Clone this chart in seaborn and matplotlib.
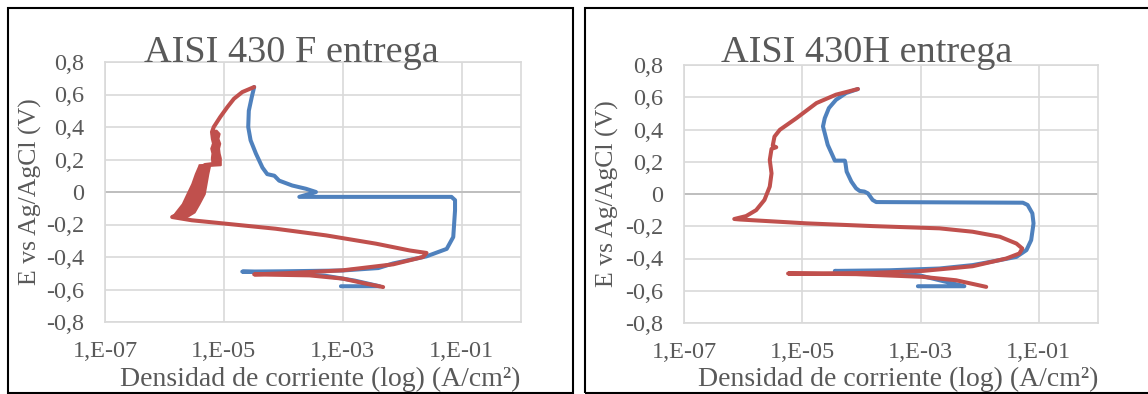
import numpy as np
import pandas as pd
import matplotlib
matplotlib.use('Agg')
import matplotlib.pyplot as plt
import seaborn as sns
from matplotlib.ticker import FixedLocator, FuncFormatter

# ================= datos (log10 de la densidad de corriente, potencial en V) =================
# AISI 430 F - barrido directo (azul)
f_blue_log = [-3.03, -2.38, -2.80, -3.30, -4.00, -4.69, -4.00, -3.00, -2.40, -2.155, -1.59, -1.25, -1.14,
              -1.11, -1.11, -1.17, -2.50, -3.73, -3.45, -3.62, -3.85, -4.07, -4.15, -4.27, -4.35, -4.46,
              -4.55, -4.59, -4.58, -4.53, -4.49]
f_blue_E = [-0.58, -0.58, -0.545, -0.515, -0.498, -0.490, -0.488, -0.483, -0.468, -0.44, -0.396, -0.35, -0.277,
            -0.113, -0.05, -0.03, -0.03, -0.03, 0.0, 0.02, 0.04, 0.07, 0.10, 0.11, 0.15, 0.236,
            0.318, 0.40, 0.50, 0.585, 0.646]
# AISI 430 F - barrido inverso (rojo)
f_red_log = [-4.49, -4.69, -4.83, -4.94, -5.06, -5.17, -5.20, -5.15, -5.17, -5.13, -5.16, -5.13, -5.14, -5.32,
             -5.38, -5.45, -5.50, -5.58, -5.68, -5.87, -5.54, -4.97, -4.13, -3.28, -2.44, -1.87, -1.59,
             -1.65, -2.15, -3.00, -3.85, -4.49, -3.56, -3.00, -2.61, -2.32]
f_red_E = [0.646, 0.615, 0.574, 0.523, 0.462, 0.40, 0.369, 0.33, 0.29, 0.25, 0.21, 0.19, 0.174, 0.166,
           0.10, 0.04, -0.01, -0.07, -0.12, -0.154, -0.174, -0.195, -0.226, -0.267, -0.318, -0.36, -0.375,
           -0.40, -0.445, -0.482, -0.498, -0.507, -0.513, -0.533, -0.564, -0.585]
# zona ruidosa del barrido inverso (envolvente)
f_band_E = [0.38, 0.36, 0.33, 0.30, 0.27, 0.24, 0.21, 0.18, 0.172, 0.168, 0.164, 0.113, 0.051, -0.010,
            -0.072, -0.123, -0.154]
f_band_left = [-5.20, -5.22, -5.21, -5.19, -5.22, -5.20, -5.21, -5.20, -5.20, -5.42, -5.42, -5.48, -5.54,
               -5.62, -5.70, -5.81, -5.87]
f_band_right = [-5.13, -5.08, -5.10, -5.07, -5.09, -5.08, -5.06, -5.06, -5.06, -5.06, -5.24, -5.27, -5.30,
                -5.33, -5.42, -5.50, -5.64]

# AISI 430H - barrido directo (azul)
h_blue_log = [-3.045, -2.26, -2.68, -3.02, -3.80, -4.45, -3.52, -2.68, -2.12, -1.66, -1.38, -1.21, -1.13,
              -1.09, -1.11, -1.19, -1.27, -2.50, -3.75, -3.81, -3.89, -3.95, -4.03, -4.09, -4.17, -4.25,
              -4.27, -4.28, -4.45, -4.48, -4.57, -4.62, -4.65, -4.62, -4.55, -4.43, -4.26, -4.06]
h_blue_E = [-0.572, -0.572, -0.535, -0.504, -0.485, -0.477, -0.473, -0.462, -0.441, -0.41, -0.39, -0.348, -0.286,
            -0.182, -0.12, -0.068, -0.054, -0.052, -0.05, -0.037, 0.004, 0.015, 0.019, 0.035, 0.077, 0.139,
            0.19, 0.207, 0.207, 0.232, 0.305, 0.377, 0.419, 0.47, 0.533, 0.584, 0.626, 0.651]
# AISI 430H - barrido inverso (rojo)
h_red_log = [-4.06, -4.43, -4.76, -5.10, -5.38, -5.47, -5.50, -5.44, -5.52, -5.55, -5.52, -5.55, -5.64, -5.78,
             -5.95, -6.15, -6.06, -4.93, -3.81, -2.68, -2.12, -1.66, -1.38, -1.28, -1.33, -1.55, -2.12, -2.96,
             -3.81, -4.65, -5.24, -4.09, -2.96, -2.40, -1.89]
h_red_E = [0.651, 0.616, 0.564, 0.47, 0.398, 0.356, 0.30, 0.29, 0.28, 0.211, 0.128, 0.046, -0.037, -0.10,
           -0.137, -0.155, -0.158, -0.182, -0.199, -0.213, -0.234, -0.265, -0.307, -0.338, -0.369, -0.40, -0.448,
           -0.477, -0.489, -0.493, -0.493, -0.497, -0.514, -0.535, -0.576]

titles = ['AISI 430 F entrega', 'AISI 430H entrega']
x_ticks = [1e-7, 1e-5, 1e-3, 1e-1]
y_ticks = [-0.8, -0.6, -0.4, -0.2, 0, 0.2, 0.4, 0.6, 0.8]

# ================= estilo =================
COLOR_BLUE = '#4f81bd'
COLOR_RED = '#c0504d'
GRID = '#d9d9d9'
TXT = '#595959'
sns.set_style('white')
plt.rcParams['font.family'] = ['Liberation Serif', 'DejaVu Serif']

fig = plt.figure(figsize=(11.48, 3.94), dpi=100)
fig.patch.set_facecolor('white')

W, H = 1148, 394
ax_pos = [[105 / W, 1 - 322 / H, 416 / W, 260 / H],
          [684 / W, 1 - 323 / H, 414 / W, 258 / H]]
frames = [(8, 573), (585, 1160)]
title_x = [291, 867]
ylab_x = [-0.18, -0.186]

series = [(f_blue_log, f_blue_E, f_red_log, f_red_E),
          (h_blue_log, h_blue_E, h_red_log, h_red_E)]


def fmt_x(v, pos):
    return '1,E-%02d' % int(round(-np.log10(v)))


def fmt_y(v, pos):
    if abs(v) < 1e-9:
        return '0'
    return ('%.1f' % v).replace('.', ',')


for k in range(2):
    ax = fig.add_axes(ax_pos[k])
    bl, be, rl, re_ = series[k]
    df_b = pd.DataFrame({'i': 10 ** np.array(bl), 'E': be})
    df_r = pd.DataFrame({'i': 10 ** np.array(rl), 'E': re_})

    ax.set_xscale('log')
    ax.set_xlim(1e-7, 1e0)
    ax.set_ylim(-0.8, 0.8)
    ax.xaxis.set_major_locator(FixedLocator(x_ticks))
    ax.xaxis.set_minor_locator(FixedLocator([]))
    ax.yaxis.set_major_locator(FixedLocator(y_ticks))
    ax.xaxis.set_major_formatter(FuncFormatter(fmt_x))
    ax.yaxis.set_major_formatter(FuncFormatter(fmt_y))
    ax.grid(True, color=GRID, lw=1.2)
    ax.axhline(0, color='#bfbfbf', lw=1.4, zorder=1)
    for s in ax.spines.values():
        s.set_color(GRID)
        s.set_linewidth(1.2)
    ax.tick_params(length=0, labelsize=17.5, colors=TXT)
    ax.tick_params(axis='y', pad=15)
    ax.tick_params(axis='x', pad=14)

    sns.lineplot(data=df_b, x='i', y='E', sort=False, estimator=None, color=COLOR_BLUE, lw=2.9, ax=ax)
    if k == 0:
        ax.fill_betweenx(f_band_E, 10 ** np.array(f_band_left), 10 ** np.array(f_band_right),
                         color=COLOR_RED, lw=1.5, ec=COLOR_RED, zorder=3)
    sns.lineplot(data=df_r, x='i', y='E', sort=False, estimator=None, color=COLOR_RED, lw=2.9, ax=ax)

    ax.set_xlabel('Densidad de corriente (log) (A/cm²)', fontsize=20, color=TXT, va='center')
    ax.xaxis.set_label_coords(0.517, -0.22)
    ax.set_ylabel('E vs Ag/AgCl (V)', fontsize=18.5, color=TXT, va='center')
    ax.yaxis.set_label_coords(ylab_x[k], 0.5)
    fig.text(title_x[k] / W, 1 - 62 / H, titles[k], fontsize=27.5, color=TXT, ha='center', va='baseline')

    x0, x1 = frames[k]
    fig.add_artist(plt.Rectangle((x0 / W, 1 - 393 / H), (x1 - x0) / W, (393 - 8) / H,
                                 transform=fig.transFigure, fill=False, ec='black', lw=1.5))

plt.savefig('out.png', dpi=100)
